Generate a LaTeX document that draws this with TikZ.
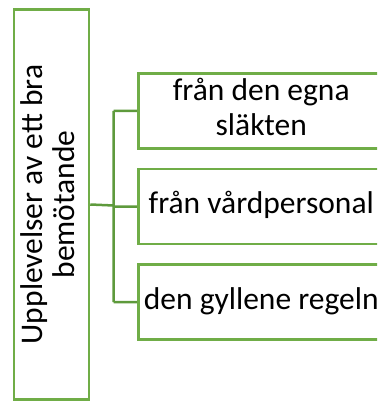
\documentclass[tikz,border=0pt]{standalone}
\usepackage{fontspec}
\setmainfont{Carlito}
\usepackage{graphicx}
\usetikzlibrary{positioning, calc}

\definecolor{boxgreen}{HTML}{70AD47}
\definecolor{linkgreen}{HTML}{5E9A3C}

% item text sits in the left 246pt of a box that runs on past the page edge
\newcommand{\itemtext}[1]{\makebox[300pt][l]{\makebox[246pt]{\begin{tabular}{@{}c@{}}#1\end{tabular}}}}

\tikzset{
  topicbox/.style={draw=boxgreen, line width=2.5pt, minimum width=75pt, minimum height=390pt, inner sep=0pt},
  itembox/.style={draw=boxgreen, line width=2.5pt, minimum width=300pt, minimum height=75pt,
                   inner sep=0pt, anchor=west},
  link/.style={draw=linkgreen, line width=2.5pt}
}

\begin{document}
\begin{tikzpicture}[x=1pt, y=-1pt, font=\fontsize{31.5}{35}\selectfont, node distance=18pt]
  \useasboundingbox (0,0) rectangle (377,401);
  \clip (0,0) rectangle (377,401);

  \node[topicbox] (topic) at (51.5,204.5)
    {\rotatebox{90}{\begin{tabular}{@{}c@{}}Upplevelser av ett bra\\[-3pt] bemötande\end{tabular}}};

  \node[itembox] (b1) at (137,111) {\itemtext{från den egna\\ släkten}};
  \node[itembox] (b2) [below=of b1.south west, anchor=north west] {\itemtext{från vårdpersonal}};
  \node[itembox] (b3) [below=of b2.south west, anchor=north west] {\itemtext{den gyllene regeln}};

  % fork between the topic and the three items
  \coordinate (fork) at ($(topic.east)!0.5!(b2.west)$);
  \path[link]
    (topic.east) -- (fork)
    (fork |- b1.west) -- (fork |- b3.west)
    (fork |- b1.west) -- (b1.west)
    (fork |- b2.west) -- (b2.west)
    (fork |- b3.west) -- (b3.west);
\end{tikzpicture}
\end{document}
